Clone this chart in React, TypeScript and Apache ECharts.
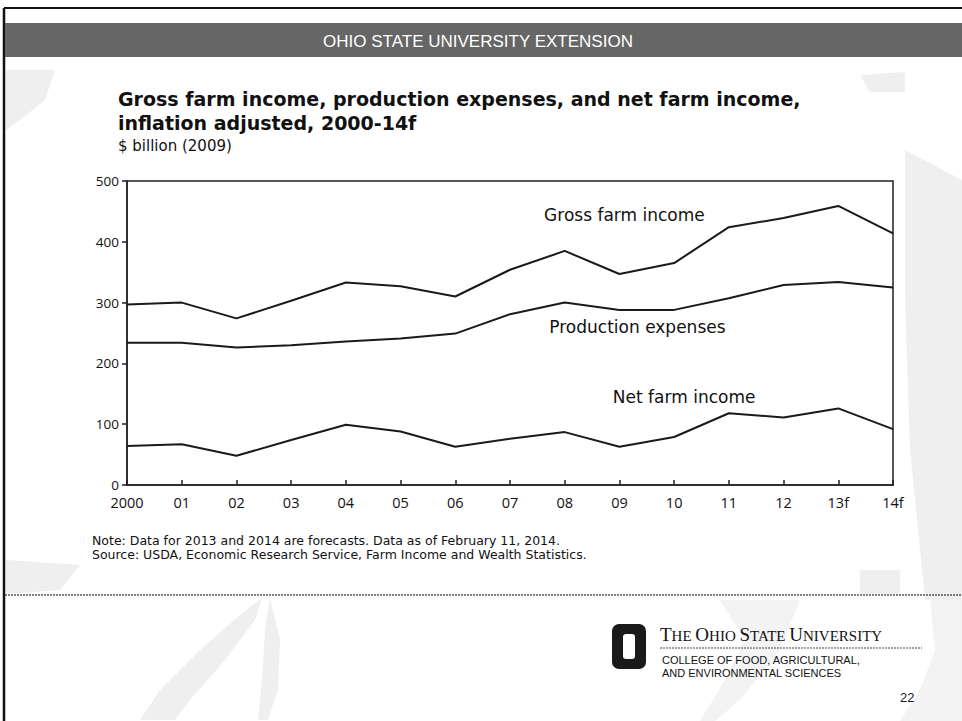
import React, { useEffect, useRef } from "react";
import * as echarts from "echarts";

const years = ["2000", "01", "02", "03", "04", "05", "06", "07", "08", "09", "10", "11", "12", "13f", "14f"];
const grossFarmIncome = [297, 300, 274, 303, 333, 327, 310, 354, 385, 347, 365, 424, 439, 459, 414];
const productionExpenses = [234, 234, 226, 230, 236, 241, 249, 281, 300, 288, 288, 307, 329, 334, 325];
const netFarmIncome = [64, 67, 48, 74, 99, 88, 63, 76, 87, 63, 79, 118, 111, 126, 92];
const yTicks = [0, 100, 200, 300, 400, 500];

const titleLines = ["Gross farm income, production expenses, and net farm income,", "inflation adjusted, 2000-14f"];
const unitLabel = "$ billion (2009)";
const noteLines = [
  "Note: Data for 2013 and 2014 are forecasts. Data as of February 11, 2014.",
  "Source: USDA, Economic Research Service, Farm Income and Wealth Statistics.",
];

const FONT = "'Open Sans', 'Noto Sans', sans-serif";
const WIDE_FONT = "'DejaVu Sans', 'Open Sans', sans-serif";
const LINE = "#1a1a1a";

function seriesLabel(name: string, data: number[], labelAt: [number, number], offset: [number, number]) {
  return {
    name,
    type: "line",
    data,
    symbol: "none",
    lineStyle: { color: LINE, width: 2 },
    markPoint: {
      symbol: "circle",
      symbolSize: 0,
      data: [{ coord: labelAt, value: name }],
      label: {
        show: true,
        formatter: name,
        position: "inside",
        offset,
        color: "#111",
        fontSize: 17,
        fontFamily: WIDE_FONT,
      },
    },
  };
}

export default function App() {
  const ref = useRef<HTMLDivElement>(null);
  useEffect(() => {
    document.body.style.margin = "0";
    const chart = echarts.init(ref.current!, null, { renderer: "svg" });
    const decor = "#efefef";
    chart.setOption({
      animation: false,
      backgroundColor: "#ffffff",
      grid: { left: 127, top: 181, width: 766, height: 304, show: true, borderColor: "#222", borderWidth: 1.5, backgroundColor: "transparent" },
      xAxis: {
        type: "category",
        data: years,
        boundaryGap: false,
        axisLine: { lineStyle: { color: "#222", width: 1.5 } },
        axisTick: { show: true, inside: true, length: 5, lineStyle: { color: "#222", width: 1.5 }, alignWithLabel: true },
        axisLabel: { color: "#111", fontSize: 14.5, fontFamily: FONT, margin: 10 },
        splitLine: { show: false },
      },
      yAxis: {
        type: "value",
        min: yTicks[0],
        max: yTicks[yTicks.length - 1],
        interval: 100,
        axisLine: { show: true, lineStyle: { color: "#222", width: 1.5 } },
        axisTick: { show: true, inside: false, length: 5, lineStyle: { color: "#222", width: 1.5 } },
        axisLabel: { color: "#111", fontSize: 13.5, fontFamily: FONT, margin: 8 },
        splitLine: { show: false },
      },
      series: [
        seriesLabel("Gross farm income", grossFarmIncome, [9, 444], [5, 0]),
        seriesLabel("Production expenses", productionExpenses, [9, 260], [18, 0]),
        seriesLabel("Net farm income", netFarmIncome, [10, 145], [10, 0]),
      ],
      graphic: [
        // faint scanned background shapes
        { type: "polygon", silent: true, shape: { points: [[140, 720], [160, 690], [200, 650], [240, 615], [262, 598], [255, 620], [225, 660], [190, 700], [175, 720]] }, style: { fill: decor } },
        { type: "polygon", silent: true, shape: { points: [[270, 598], [280, 640], [278, 690], [268, 720], [258, 720], [262, 680], [265, 630]] }, style: { fill: decor } },
        { type: "polygon", silent: true, shape: { points: [[905, 150], [962, 180], [962, 600], [925, 600], [910, 450], [905, 300]] }, style: { fill: decor } },
        { type: "polygon", silent: true, shape: { points: [[6, 70], [55, 70], [45, 100], [20, 120], [6, 130]] }, style: { fill: decor } },
        { type: "polygon", silent: true, shape: { points: [[860, 75], [905, 72], [905, 92], [870, 92]] }, style: { fill: decor } },
        { type: "polygon", silent: true, shape: { points: [[6, 560], [80, 565], [60, 590], [6, 594]] }, style: { fill: decor } },
        { type: "polygon", silent: true, shape: { points: [[720, 600], [800, 600], [780, 650], [740, 700], [715, 721], [700, 721], [725, 680], [745, 640]] }, style: { fill: "#f3f3f3" } },
        { type: "polygon", silent: true, shape: { points: [[930, 600], [962, 600], [962, 721], [900, 721], [920, 690], [935, 650]] }, style: { fill: "#f3f3f3" } },
        { type: "polygon", silent: true, shape: { points: [[860, 570], [900, 570], [900, 594], [860, 594]] }, style: { fill: decor } },
        // page frame
        { type: "line", shape: { x1: 4, y1: 8, x2: 962, y2: 8 }, style: { stroke: "#111", lineWidth: 2 } },
        { type: "line", shape: { x1: 4, y1: 8, x2: 4, y2: 721 }, style: { stroke: "#111", lineWidth: 2.5 } },
        // header bar
        { type: "rect", shape: { x: 5, y: 23, width: 957, height: 34 }, style: { fill: "#666666" } },
        {
          type: "text",
          x: 478,
          y: 41,
          style: { text: "OHIO STATE UNIVERSITY EXTENSION", fill: "#ffffff", font: "17px 'Liberation Sans', Arial, sans-serif", textAlign: "center", textVerticalAlign: "middle" },
        },
        // title
        {
          type: "text",
          x: 118,
          y: 87,
          style: { text: titleLines.join("\n"), fill: "#111", font: `bold 19px ${WIDE_FONT}`, lineHeight: 24, textVerticalAlign: "top" },
        },
        { type: "text", x: 118, y: 146, style: { text: unitLabel, fill: "#111", font: `15px ${WIDE_FONT}`, textVerticalAlign: "middle" } },
        // notes
        {
          type: "text",
          x: 92,
          y: 533,
          style: { text: noteLines.join("\n"), fill: "#111", font: `12.5px ${WIDE_FONT}`, lineHeight: 14.5, textVerticalAlign: "top" },
        },
        // separator
        { type: "line", shape: { x1: 5, y1: 595, x2: 962, y2: 595 }, style: { stroke: "#555", lineWidth: 1.5, lineDash: [2, 1] } },
        // logo
        { type: "rect", shape: { x: 612, y: 624, width: 34, height: 45, r: 7 }, style: { fill: "#1a1a1a" } },
        { type: "rect", shape: { x: 623, y: 634, width: 12, height: 25, r: 3 }, style: { fill: "#ffffff" } },
        {
          type: "text",
          x: 660,
          y: 634,
          style: {
            text: "{b|T}{s|HE }{b|O}{s|HIO }{b|S}{s|TATE }{b|U}{s|NIVERSITY}",
            fill: "#111",
            textVerticalAlign: "middle",
            rich: {
              b: { fontSize: 19, fontFamily: "'Liberation Serif', 'DejaVu Serif', serif", fill: "#111", verticalAlign: "bottom" },
              s: { fontSize: 15, fontFamily: "'Liberation Serif', 'DejaVu Serif', serif", fill: "#111", verticalAlign: "bottom" },
            },
          },
        },
        { type: "line", shape: { x1: 660, y1: 648, x2: 922, y2: 648 }, style: { stroke: "#444", lineWidth: 1, lineDash: [2, 1] } },
        {
          type: "text",
          x: 662,
          y: 654,
          style: { text: "COLLEGE OF FOOD, AGRICULTURAL,\nAND ENVIRONMENTAL SCIENCES", fill: "#111", font: "11px 'Liberation Sans', Arial, sans-serif", lineHeight: 12.5, textVerticalAlign: "top" },
        },
        { type: "text", x: 900, y: 697, style: { text: "22", fill: "#222", font: "13px 'Liberation Sans', Arial, sans-serif", textVerticalAlign: "middle" } },
      ],
    });
    return () => chart.dispose();
  }, []);
  return <div ref={ref} style={{ position: "fixed", left: 0, top: 0, width: 962, height: 721 }} />;
}
